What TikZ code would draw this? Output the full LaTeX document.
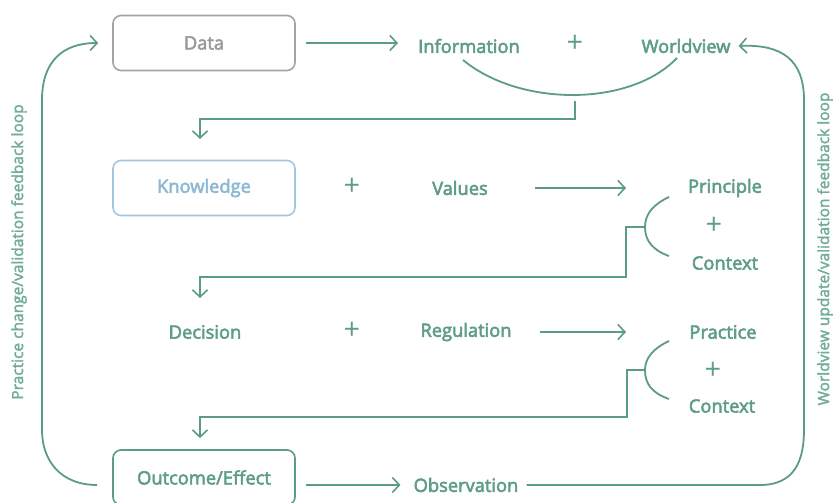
\documentclass[tikz,border=0pt]{standalone}
\usepackage{fontspec}
\setmainfont{Open Sans}
\usetikzlibrary{arrows.meta}
\definecolor{grn}{HTML}{5E9E86}
\definecolor{grnline}{HTML}{5C9C84}
\definecolor{grnside}{HTML}{72AD95}
\definecolor{gry}{HTML}{9A9A9A}
\definecolor{blu}{HTML}{8DB8D6}
\definecolor{blubox}{HTML}{A3C7E0}
\newcommand{\heavyon}[1]{\special{pdf:literal direct 2 Tr #1 w}}
\newcommand{\heavyoff}{\special{pdf:literal direct 0 Tr}}
\tikzset{
  thick text/.style={execute at begin node={\heavyon{#1}}, execute at end node={\heavyoff}},
  lbl/.style={text=grn, font=\fontsize{18.3}{20}\selectfont, inner sep=0pt, thick text=0.55},
  pluslbl/.style={text=grn, font=\fontsize{29}{29}\selectfont, inner sep=0pt},
  sidelbl/.style={text=grnside, font=\fontsize{15.5}{16}\selectfont, inner sep=0pt, rotate=90, thick text=0.35},
  box/.style={draw, rounded corners=8pt, line width=1.6pt, minimum width=182pt, minimum height=55pt, inner sep=0pt, font=\fontsize{18.3}{20}\selectfont, thick text=0.55},
  conn/.style={draw=grnline, line width=1.8pt},
  arr/.style={conn, -{Straight Barb[length=7pt,width=15pt,line width=1.6pt]}},
}
\begin{document}
\begin{tikzpicture}[x=1pt,y=-1pt]
\useasboundingbox[fill=white] (0,0) rectangle (833,503);
% boxes
\node[box, draw=gry!90, text=gry] (data) at (204,43) {Data};
\node[box, draw=blubox, text=blu] (know) at (204,188) {Knowledge};
\node[box, draw=grnline, text=grn] (outc) at (204,477.5) {Outcome/Effect};
% row 1
\node[lbl] (info) at (469,46) {Information};
\node[pluslbl] (p1) at (575,44) {+};
\node[lbl] (world) at (686,46) {Worldview};
% row 2
\node[pluslbl] (p2) at (352,187) {+};
\node[lbl] (values) at (460,188) {Values};
\node[lbl] (princ) at (725,188) {Principle};
\node[pluslbl] (p3) at (714,226) {+};
\node[lbl] (ctx1) at (725,263) {Context};
% row 3
\node[lbl] (dec) at (205,332) {Decision};
\node[pluslbl] (p4) at (352,331) {+};
\node[lbl] (reg) at (466,332) {Regulation};
\node[lbl] (pract) at (723,332) {Practice};
\node[pluslbl] (p5) at (713,371) {+};
\node[lbl] (ctx2) at (722,406) {Context};
% row 4
\node[lbl] (obs) at (466,485) {Observation};
% side labels
\node[sidelbl] (left) at (19,252) {Practice change/validation feedback loop};
\node[sidelbl] (right) at (825,249) {Worldview update/validation feedback loop};
% coordinates
\coordinate (c1a) at (463,60);
\coordinate (c1b) at (677,58);
\coordinate (j1) at (575,101);
\coordinate (b1t) at (669,197);
\coordinate (b1l) at (645,227);
\coordinate (b1b) at (669,256);
\coordinate (b2t) at (669,341);
\coordinate (b2l) at (645,370);
\coordinate (b2b) at (669,399);
\coordinate (va) at (535,188);
\coordinate (vb) at (626,188);
\coordinate (ra) at (540,332);
\coordinate (rb) at (626,332);
% arrows
\draw[arr] ([xshift=10pt]data.east) -- ([xshift=-20pt]info.west |- data.east);
\draw[conn] (c1a) .. controls (520,107) and (630,107) .. (c1b);
\draw[arr] (j1) -- (575,119) -- (200,119) -- (200,139);
\draw[arr] (va) -- (vb);
\draw[conn] (b1t) .. controls (652,205) and (645,215) .. (b1l) .. controls (645,240) and (652,250) .. (b1b);
\draw[arr] (b1l) -- (626,227) -- (626,277) -- (200,277) -- (200,298);
\draw[arr] (ra) -- (rb);
\draw[conn] (b2t) .. controls (652,349) and (645,359) .. (b2l) .. controls (645,384) and (652,393) .. (b2b);
\draw[arr] (b2l) -- (627,370) -- (627,417) -- (200,417) -- (200,438);
\draw[arr] ([xshift=10pt]outc.east |- obs.west) -- ([xshift=-13pt]obs.west);
% right loop
\draw[arr] ([xshift=8pt]obs.east) -- (760,485) .. controls (795,485) and (804,460) .. (804,430) -- (804,100) .. controls (804,60) and (782,44) .. ([xshift=8pt]world.east);
% left loop
\draw[arr] ([xshift=-15pt]outc.west |- obs.west) .. controls (60,485) and (42,460) .. (42,430) -- (42,100) .. controls (42,62) and (62,43) .. ([xshift=-14pt]data.west);
\end{tikzpicture}
\end{document}
